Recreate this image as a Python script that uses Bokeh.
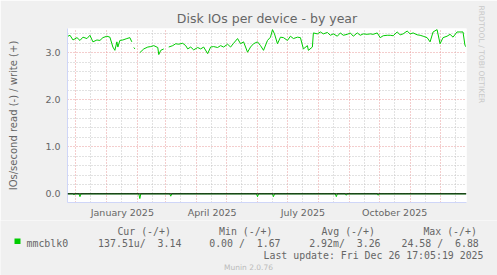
import numpy as np
import pandas as pd
from bokeh.plotting import figure
from bokeh.layouts import column
from bokeh.models import (Range1d, FixedTicker, DatetimeTickFormatter, PrintfTickFormatter,
                          Span, Title)
from bokeh.core.properties import value
from bokeh.embed import file_html
from bokeh.resources import INLINE

nan = np.nan

TITLE = "Disk IOs per device - by year"
Y_LABEL = "IOs/second read (-) / write (+)"
SERIES_NAME = "mmcblk0"
SERIES_COLOR = "#00CC00"

# write IOs/s (positive side)
write_dates = [
    "2024-11-23", "2024-11-25", "2024-11-28", "2024-12-02", "2024-12-05", "2024-12-08", "2024-12-12",
    "2024-12-15", "2024-12-18", "2024-12-22", "2024-12-25", "2024-12-28",
    "2025-01-01", "2025-01-04", "2025-01-07", "2025-01-09", "2025-01-11", "2025-01-12", "2025-01-14",
    "2025-01-17", "2025-01-21", "2025-01-24", "2025-01-26", "2025-01-27", "2025-01-28", "2025-01-29",
    "2025-01-31",
    "2025-02-03", "2025-02-07", "2025-02-11", "2025-02-14", "2025-02-17", "2025-02-21", "2025-02-22",
    "2025-02-24", "2025-02-27",
    "2025-03-01", "2025-03-04", "2025-03-08", "2025-03-11", "2025-03-14", "2025-03-18", "2025-03-21",
    "2025-03-23", "2025-03-26", "2025-03-29",
    "2025-04-02", "2025-04-05", "2025-04-08", "2025-04-12", "2025-04-15", "2025-04-18", "2025-04-22",
    "2025-04-25", "2025-04-28",
    "2025-05-02", "2025-05-05", "2025-05-08", "2025-05-12", "2025-05-15", "2025-05-18", "2025-05-22",
    "2025-05-25", "2025-05-28",
    "2025-06-01", "2025-06-04", "2025-06-07", "2025-06-11", "2025-06-14", "2025-06-16", "2025-06-18",
    "2025-06-21", "2025-06-24", "2025-06-27",
    "2025-07-01", "2025-07-04", "2025-07-07", "2025-07-11", "2025-07-14", "2025-07-17", "2025-07-21",
    "2025-07-22", "2025-07-26", "2025-07-27", "2025-07-31",
    "2025-08-03", "2025-08-06", "2025-08-10", "2025-08-13", "2025-08-16", "2025-08-20", "2025-08-23",
    "2025-08-26", "2025-08-30",
    "2025-09-02", "2025-09-05", "2025-09-09", "2025-09-12", "2025-09-15", "2025-09-19", "2025-09-22",
    "2025-09-25", "2025-09-29",
    "2025-10-02", "2025-10-05", "2025-10-09", "2025-10-12", "2025-10-15", "2025-10-19", "2025-10-22",
    "2025-10-25", "2025-10-29",
    "2025-11-01", "2025-11-04", "2025-11-08", "2025-11-11", "2025-11-14", "2025-11-18", "2025-11-21",
    "2025-11-24", "2025-11-28",
    "2025-12-01", "2025-12-04", "2025-12-08", "2025-12-11", "2025-12-14", "2025-12-18", "2025-12-21",
    "2025-12-24", "2025-12-26", "2025-12-27",
]
write_values = [
    3.35, 3.37, 3.27, 3.32, 3.26, 3.33, 3.30,
    3.37, 3.23, 3.27, 3.26, 3.32,
    3.35, 3.33, 3.12, 3.05, 3.23, 3.12, 3.26,
    3.27, 3.30, 3.32, 3.23, nan, 3.11, 3.08,
    nan,
    3.00, 3.08, 3.12, 3.13, 3.15, 3.11, 2.96,
    3.05, 3.08,
    nan, 3.12, 3.15, 3.19, 3.18, 3.20, 3.15,
    3.08, 3.12, 3.06,
    3.11, 3.08, 3.12, 2.98, 3.12, 3.13, 3.11,
    3.15, 3.12,
    3.18, 3.12, 3.20, 3.30, 3.19, 3.23, 3.01,
    3.12, 3.19,
    3.23, 3.15, 3.05, 3.26, 3.33, 3.49, 3.40,
    3.19, 3.33, 3.32,
    3.26, 3.35, 3.30, 3.33, 3.32, 3.08, 3.15,
    3.05, 3.12, 3.42, 3.40,
    3.44, 3.40, 3.43, 3.37, 3.40, 3.35, 3.42,
    3.37, 3.39,
    3.42, 3.35, 3.42, 3.37, 3.40, 3.39, 3.40,
    3.39, 3.42,
    3.32, 3.36, 3.37, 3.37, 3.36, 3.44, 3.38,
    3.40, 3.46,
    3.40, 3.42, 3.38, 3.37, 3.35, 3.32, 3.23,
    3.44, 3.49,
    3.19, 3.32, 3.35, 3.39, 3.33, 3.44, 3.44,
    3.44, 3.15, 3.13,
]

# read IOs/s (drawn negative)
read_dates = [
    "2024-11-22", "2024-11-28", "2024-11-29", "2024-11-30", "2024-12-04", "2024-12-05", "2024-12-06",
    "2025-02-02", "2025-02-03", "2025-02-04", "2025-03-05", "2025-03-06", "2025-03-07",
    "2025-05-31", "2025-06-01", "2025-06-02", "2025-06-16", "2025-06-17", "2025-06-18",
    "2025-08-18", "2025-08-19", "2025-08-20", "2025-08-28", "2025-08-29", "2025-08-30",
    "2025-09-29", "2025-09-30", "2025-10-01", "2025-12-27",
]
read_values = [
    0.0, 0.0, -0.02, 0.0, 0.0, -0.06, 0.0,
    0.0, -0.10, 0.0, 0.0, -0.05, 0.0,
    0.0, -0.06, 0.0, 0.0, -0.06, 0.0,
    0.0, -0.06, 0.0, 0.0, -0.03, 0.0,
    0.0, -0.03, 0.0, 0.0,
]

x_start, x_end = "2024-11-22 12:00", "2025-12-27 12:00"
y_start, y_end = -0.184, 3.514

month_starts = ["2024-12-01", "2025-01-01", "2025-02-01", "2025-03-01", "2025-04-01", "2025-05-01",
                "2025-06-01", "2025-07-01", "2025-08-01", "2025-09-01", "2025-10-01", "2025-11-01",
                "2025-12-01"]
mid_months = ["2024-12-16", "2025-01-16", "2025-02-16", "2025-03-16", "2025-04-16", "2025-05-16",
              "2025-06-16", "2025-07-16", "2025-08-16", "2025-09-16", "2025-10-16", "2025-11-16",
              "2025-12-16"]
x_label_dates = ["2025-01-16 12:00", "2025-04-16 12:00", "2025-07-16 12:00", "2025-10-16 12:00"]
y_major = [0, 1, 2, 3]
y_minor = [-0.2, 0.2, 0.4, 0.6, 0.8, 1.2, 1.4, 1.6, 1.8, 2.2, 2.4, 2.6, 2.8, 3.2, 3.4]

stats_headers = ["Cur (-/+)", "Min (-/+)", "Avg (-/+)", "Max (-/+)"]
stats_values = ["137.51u/  3.14", "0.00 /  1.67", "2.92m/  3.26", "24.58 /  6.88"]
LAST_UPDATE = "Last update: Fri Dec 26 17:05:19 2025"
FOOTER = "Munin 2.0.76"
WATERMARK = "RRDTOOL / TOBI OETIKER"


def ms(s):
    return pd.Timestamp(s).value / 1e6


def nb(s):
    return s.replace(" ", "\u00a0")


W = 497
H_MAIN, H_LEG = 220, 55
FL, FR, FT, FB = 67, 467, 28, 203
FONT = "DejaVu Sans"
MONO = "DejaVu Sans Mono"
TXT = "#666666"
BG = "#F0F0F0"
AX = "#CFD6F8"
MS = "9.9px"

p = figure(width=W, height=H_MAIN, x_axis_type="datetime",
           x_range=Range1d(pd.Timestamp(x_start), pd.Timestamp(x_end)),
           y_range=Range1d(y_start, y_end),
           output_backend="svg", toolbar_location=None,
           min_border_left=FL, min_border_right=W - FR, min_border_top=FT, min_border_bottom=H_MAIN - FB)
p.background_fill_color = "white"
p.border_fill_color = BG
p.outline_line_color = None

# title & watermark
p.title.text = TITLE
p.title.align = "center"
p.title.offset = -18.5
p.title.standoff = 6
p.title.text_font = FONT
p.title.text_font_size = "12.5px"
p.title.text_font_style = "normal"
p.title.text_color = TXT
p.add_layout(Title(text=WATERMARK, align="left", offset=-23, standoff=20, text_font=FONT,
                   text_font_size="7.6px", text_font_style="normal", text_color="#C8C8C8"), "right")

# grids
p.xgrid.ticker = FixedTicker(ticks=[ms(d) for d in month_starts], minor_ticks=[ms(d) for d in mid_months])
p.ygrid.ticker = FixedTicker(ticks=y_major, minor_ticks=y_minor)
for g in (p.xgrid, p.ygrid):
    g.grid_line_color = "#E89A9A"
    g.grid_line_dash = "1 2"
    g.grid_line_width = 1
    g.minor_grid_line_color = "#C4C4C4"
    g.minor_grid_line_dash = "1 2"
    g.minor_grid_line_width = 1

# axes
xa = p.xaxis[0]
xa.ticker = FixedTicker(ticks=[ms(d) for d in x_label_dates], minor_ticks=[])
fmt = "%B %Y"
xa.formatter = DatetimeTickFormatter(milliseconds=fmt, seconds=fmt, minsec=fmt, minutes=fmt, hourmin=fmt,
                                     hours=fmt, days=fmt, months=fmt, years=fmt)
ya = p.yaxis[0]
ya.ticker = FixedTicker(ticks=y_major, minor_ticks=y_minor)
ya.formatter = PrintfTickFormatter(format="%.1f")
ya.axis_label = Y_LABEL
ya.axis_label_text_font = FONT
ya.axis_label_text_font_size = "10px"
ya.axis_label_text_font_style = "normal"
ya.axis_label_text_color = TXT
ya.axis_label_standoff = 23
for a in (xa, ya):
    a.axis_line_color = AX
    a.axis_line_width = 1
    a.major_tick_line_color = None
    a.minor_tick_line_color = None
    a.major_tick_out = 0
    a.major_tick_in = 0
    a.minor_tick_out = 0
    a.minor_tick_in = 0
    a.major_label_text_font = FONT
    a.major_label_text_font_size = "9.5px"
    a.major_label_text_color = TXT
xa.major_label_standoff = 4
ya.major_label_standoff = 7

# data
p.line(x=pd.to_datetime(read_dates), y=np.array(read_values, dtype=float), line_color=SERIES_COLOR, line_width=1)
p.line(x=pd.to_datetime(write_dates), y=np.array(write_values, dtype=float), line_color=SERIES_COLOR, line_width=1)
p.add_layout(Span(location=0, dimension="width", line_color="black", line_width=1))

# legend / statistics strip (pixel coordinates, y measured from the top of the strip)
q = figure(width=W, height=H_LEG, x_range=Range1d(0, W), y_range=Range1d(H_LEG, 0),
           x_axis_type=None, y_axis_type=None, output_backend="svg", toolbar_location=None,
           min_border=0, min_border_left=0, min_border_right=0, min_border_top=0, min_border_bottom=0)
q.background_fill_color = BG
q.border_fill_color = BG
q.outline_line_color = None
q.grid.visible = False
for fig in (p, q):
    if hasattr(fig, "frame_align"):
        fig.frame_align = False

q.quad(left=[14], right=[20], top=[18], bottom=[23.5], fill_color=SERIES_COLOR, line_color=None)
q.text(x=[26], y=[23.3], text=[SERIES_NAME], text_font=value(MONO), text_font_size=MS,
       text_color=TXT, text_align="left", text_baseline="alphabetic")
q.text(x=[170.4, 272.0, 374.4, 476.4], y=[11] * 4, text=[nb(h) for h in stats_headers],
       text_font=value(MONO), text_font_size=MS, text_color=TXT, text_align="right",
       text_baseline="alphabetic")
q.text(x=[97.6, 208.7, 308.7, 401.0], y=[23.3] * 4, text=[nb(v) for v in stats_values],
       text_font=value(MONO), text_font_size=MS, text_color=TXT, text_align="left",
       text_baseline="alphabetic")
q.text(x=[483], y=[35], text=[nb(LAST_UPDATE)], text_font=value(MONO), text_font_size=MS,
       text_color=TXT, text_align="right", text_baseline="alphabetic")
q.text(x=[248], y=[46.5], text=[FOOTER], text_font=value(FONT), text_font_size="7.5px",
       text_color="#BBBBBB", text_align="center", text_baseline="alphabetic")

layout = column(p, q, spacing=0)
open("out.html", "w").write(file_html(layout, INLINE))
